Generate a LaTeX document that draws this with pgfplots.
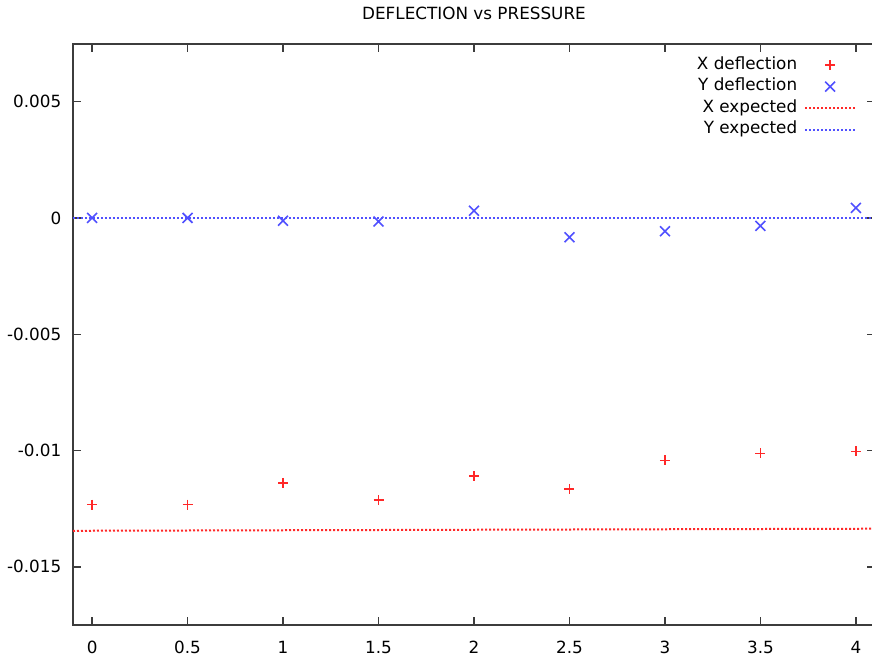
\documentclass[border=0pt]{standalone}
\usepackage{fontspec}
\setmainfont{DejaVu Sans}
\usepackage{pgfplots}
\pgfplotsset{compat=1.18}

\definecolor{ptred}{RGB}{255,40,40}
\definecolor{ptblue}{RGB}{80,80,255}
\definecolor{framegray}{RGB}{60,60,60}

\newcommand{\chartfont}{\fontsize{8.4pt}{10pt}\selectfont}

% legend samples: a single centred mark, or a 25pt dotted line
\pgfplotsset{
  markkey/.style={legend image code/.code={\draw[##1] plot coordinates {(12.5pt,0pt)};}},
  dotline/.style={draw=#1, color=#1, line width=1pt, dash pattern=on 1pt off 1pt,
    legend image code/.code={\draw[draw=#1, line width=1pt, dash pattern=on 1pt off 1pt]
      (0pt,0pt) -- (25pt,0pt);}},
  every axis title/.style={at={(0.5,1)}, anchor=base, yshift=12pt, inner sep=0pt, font=\chartfont},
}

\begin{document}
\begin{tikzpicture}
\begin{axis}[
  at={(0,0)}, anchor=south west,
  scale only axis,
  width=401pt, height=290.75pt,
  xmin=-0.1, xmax=4.1,
  ymin=-0.0175, ymax=0.0075,
  axis line style={framegray, line width=1pt},
  major tick style={framegray, line width=0.75pt},
  major tick length=4pt,
  tick align=inside,
  xtick={0,0.5,1,1.5,2,2.5,3,3.5,4},
  xticklabels={0,0.5,1,1.5,2,2.5,3,3.5,4},
  ytick={-0.015,-0.01,-0.005,0,0.005},
  yticklabels={-0.015,-0.01,-0.005,0,0.005},
  scaled y ticks=false,
  /pgf/number format/assume math mode=true,
  xticklabel style={font=\chartfont, anchor=base, inner sep=0pt, yshift=-14pt},
  yticklabel style={font=\chartfont, anchor=east, inner xsep=0pt, xshift=-5.65pt},
  title={DEFLECTION vs PRESSURE},
  legend plot pos=right,
  legend cell align=right,
  legend style={
    draw=none, fill=none, font=\chartfont,
    at={(0.977,0.982)}, anchor=north east,
    inner sep=0pt, row sep=0pt, column sep=3.5pt,
    nodes={inner sep=0pt, text height=7.5pt, text depth=3.25pt},
  },
]
% measured deflections
\addplot[only marks, mark=+, mark size=2.5pt, color=ptred, mark options={line width=0.8pt}, markkey]
  coordinates {
  (0,-0.01232) (0.5,-0.01232) (1,-0.01139) (1.5,-0.01213) (2,-0.01109)
  (2.5,-0.01165) (3,-0.01042) (3.5,-0.01012) (4,-0.01004)
  };
\addlegendentry{X deflection}
\addplot[only marks, mark=x, mark size=3.5pt, color=ptblue, mark options={line width=0.8pt}, markkey]
  coordinates {
  (0,0.0) (0.5,0.0) (1,-0.00012) (1.5,-0.00015) (2,0.00031)
  (2.5,-0.00083) (3,-0.00057) (3.5,-0.00034) (4,0.00043)
  };
\addlegendentry{Y deflection}
% expected values
\addplot[dotline=ptred]
  coordinates {(-0.1,-0.01345) (4.1,-0.01336)};
\addlegendentry{X expected}
\addplot[dotline=ptblue]
  coordinates {(-0.1,0) (4.1,0)};
\addlegendentry{Y expected}
\end{axis}
\pgfresetboundingbox
\path[use as bounding box] (-36.5pt,-17.5pt) rectangle (399.5pt,312.5pt);
\end{tikzpicture}
\end{document}
